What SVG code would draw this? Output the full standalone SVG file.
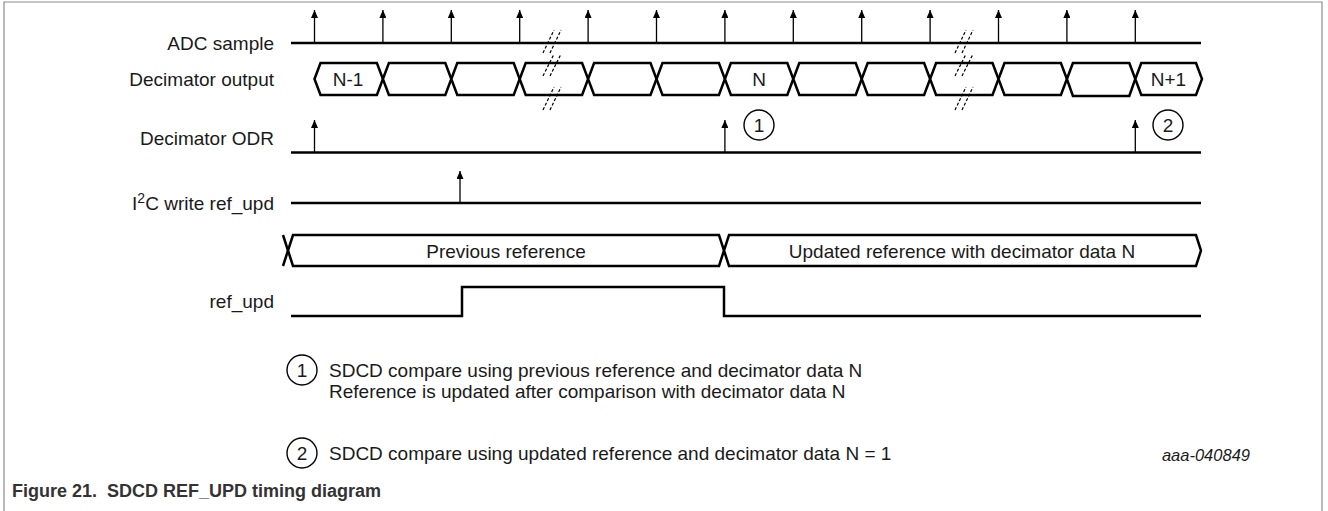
<svg xmlns="http://www.w3.org/2000/svg" width="1328" height="511" viewBox="0 0 1328 511">
<defs>
<style>
.lbl{font-family:"Liberation Sans",Arial,sans-serif;font-size:19px;fill:#1a1a1a}
.mid{text-anchor:middle}
.end{text-anchor:end}
.sig{fill:none;stroke:#000;stroke-width:2.5;stroke-linejoin:miter}
.bus{fill:#fff;stroke:#000;stroke-width:2.5;stroke-linejoin:miter}
.stem{stroke:#000;stroke-width:1.3;fill:none}
.brk{stroke:#000;stroke-width:1.2;stroke-dasharray:3 2;fill:none}
.circ{fill:#fff;stroke:#000;stroke-width:1.4}
.frame{fill:none;stroke:#8c8c8c;stroke-width:1.2}
.cap{font-family:"Liberation Sans",Arial,sans-serif;font-size:18px;font-weight:bold;fill:#333}
.id{font-family:"Liberation Sans",Arial,sans-serif;font-size:16.5px;font-style:italic;fill:#1a1a1a;text-anchor:end}
</style>
<marker id="ah" viewBox="0 0 8 7" refX="8" refY="3.5" markerWidth="8" markerHeight="7" orient="auto" markerUnits="userSpaceOnUse"><path d="M0,0 L8,3.5 L0,7 z" fill="#000"/></marker>
</defs>

<path class="frame" d="M4,511 V2 H1322 V511"/>

<g id="labels">
<text class="lbl end" x="274" y="49.5">ADC sample</text>
<text class="lbl end" x="274" y="85.5">Decimator output</text>
<text class="lbl end" x="274" y="145">Decimator ODR</text>
<text class="lbl end" x="274" y="209.5">I<tspan font-size="14" dy="-7">2</tspan><tspan dy="7">C write ref_upd</tspan></text>
<text class="lbl end" x="274" y="308">ref_upd</text>
</g>

<g id="adc-sample">
<line class="sig" x1="291" y1="43" x2="1201" y2="43"/>
<g class="stem">
<line x1="314.5" y1="43" x2="314.5" y2="10" marker-end="url(#ah)"/>
<line x1="382.9" y1="43" x2="382.9" y2="10" marker-end="url(#ah)"/>
<line x1="451.3" y1="43" x2="451.3" y2="10" marker-end="url(#ah)"/>
<line x1="519.7" y1="43" x2="519.7" y2="10" marker-end="url(#ah)"/>
<line x1="588.1" y1="43" x2="588.1" y2="10" marker-end="url(#ah)"/>
<line x1="656.5" y1="43" x2="656.5" y2="10" marker-end="url(#ah)"/>
<line x1="724.9" y1="43" x2="724.9" y2="10" marker-end="url(#ah)"/>
<line x1="793.3" y1="43" x2="793.3" y2="10" marker-end="url(#ah)"/>
<line x1="861.7" y1="43" x2="861.7" y2="10" marker-end="url(#ah)"/>
<line x1="930.1" y1="43" x2="930.1" y2="10" marker-end="url(#ah)"/>
<line x1="998.5" y1="43" x2="998.5" y2="10" marker-end="url(#ah)"/>
<line x1="1066.9" y1="43" x2="1066.9" y2="10" marker-end="url(#ah)"/>
<line x1="1135.3" y1="43" x2="1135.3" y2="10" marker-end="url(#ah)"/>
</g>
</g>

<g id="decimator-output">
<polygon class="bus" points="314.5,79 320.5,63 376.9,63 382.9,79 376.9,95 320.5,95"/>
<polygon class="bus" points="382.9,79 388.9,63 445.3,63 451.3,79 445.3,95 388.9,95"/>
<polygon class="bus" points="451.3,79 457.3,63 513.7,63 519.7,79 513.7,95 457.3,95"/>
<polygon class="bus" points="519.7,79 525.7,63 582.1,63 588.1,79 582.1,95 525.7,95"/>
<polygon class="bus" points="588.1,79 594.1,63 650.5,63 656.5,79 650.5,95 594.1,95"/>
<polygon class="bus" points="656.5,79 662.5,63 718.9,63 724.9,79 718.9,95 662.5,95"/>
<polygon class="bus" points="724.9,79 730.9,63 787.3,63 793.3,79 787.3,95 730.9,95"/>
<polygon class="bus" points="793.3,79 799.3,63 855.7,63 861.7,79 855.7,95 799.3,95"/>
<polygon class="bus" points="861.7,79 867.7,63 924.1,63 930.1,79 924.1,95 867.7,95"/>
<polygon class="bus" points="930.1,79 936.1,63 992.5,63 998.5,79 992.5,95 936.1,95"/>
<polygon class="bus" points="998.5,79 1004.5,63 1060.9,63 1066.9,79 1060.9,95 1004.5,95"/>
<polygon class="bus" points="1066.9,79 1072.9,63 1129.3,63 1135.3,79 1129.3,96 1072.9,96"/>
<polygon class="bus" points="1135.3,79 1141.3,63 1196,63 1202,79 1196,95 1141.3,95"/>
<text class="lbl mid" x="348" y="86">N-1</text>
<text class="lbl mid" x="759" y="86">N</text>
<text class="lbl mid" x="1168.5" y="86">N+1</text>
</g>

<g id="breaks">
<line class="brk" x1="543" y1="53" x2="554" y2="30"/>
<line class="brk" x1="550" y1="53" x2="561" y2="30"/>
<line class="brk" x1="543" y1="76" x2="554" y2="54"/>
<line class="brk" x1="550" y1="76" x2="561" y2="54"/>
<line class="brk" x1="543" y1="110" x2="554" y2="87"/>
<line class="brk" x1="550" y1="110" x2="561" y2="87"/>
<line class="brk" x1="955" y1="53" x2="966" y2="30"/>
<line class="brk" x1="962" y1="53" x2="973" y2="30"/>
<line class="brk" x1="955" y1="76" x2="966" y2="54"/>
<line class="brk" x1="962" y1="76" x2="973" y2="54"/>
<line class="brk" x1="955" y1="110" x2="966" y2="87"/>
<line class="brk" x1="962" y1="110" x2="973" y2="87"/>
</g>

<g id="decimator-odr">
<line class="sig" x1="291" y1="152.5" x2="1201" y2="152.5"/>
<line class="stem" x1="314.5" y1="152.5" x2="314.5" y2="120" marker-end="url(#ah)"/>
<line class="stem" x1="724.9" y1="152.5" x2="724.9" y2="120" marker-end="url(#ah)"/>
<line class="stem" x1="1135.3" y1="152.5" x2="1135.3" y2="120" marker-end="url(#ah)"/>
</g>

<g id="marker-1">
<circle class="circ" cx="759" cy="125" r="15"/>
<text class="lbl mid" x="759" y="132">1</text>
</g>
<g id="marker-2">
<circle class="circ" cx="1168" cy="125" r="15"/>
<text class="lbl mid" x="1168" y="132">2</text>
</g>

<g id="i2c-write">
<line class="sig" x1="291" y1="203" x2="1201" y2="203"/>
<line class="stem" x1="460" y1="203" x2="460" y2="171" marker-end="url(#ah)"/>
</g>

<g id="reference">
<polyline class="sig" points="283,235 288,250.5 283,266"/>
<polygon class="bus" points="288,250.5 293,235 719,235 724,250.5 719,266 293,266"/>
<polygon class="bus" points="724,250.5 729,235 1196,235 1201,250.5 1196,266 729,266"/>
<text class="lbl mid" x="506" y="257.5">Previous reference</text>
<text class="lbl mid" x="962" y="257.5">Updated reference with decimator data N</text>
</g>

<g id="ref-upd">
<polyline class="sig" points="291,316 462,316 462,287 724,287 724,316 1201,316"/>
</g>

<g id="legend">
<circle class="circ" cx="302" cy="370" r="15"/>
<text class="lbl mid" x="302" y="377">1</text>
<text class="lbl" x="329" y="377">SDCD compare using previous reference and decimator data N</text>
<text class="lbl" x="329" y="398">Reference is updated after comparison with decimator data N</text>
<circle class="circ" cx="302" cy="453" r="15"/>
<text class="lbl mid" x="302" y="460">2</text>
<text class="lbl" x="329" y="460">SDCD compare using updated reference and decimator data N = 1</text>
<text class="id" x="1250" y="461">aaa-040849</text>
</g>

<text class="cap" x="12" y="497">Figure 21.&#160; SDCD REF_UPD timing diagram</text>
</svg>
